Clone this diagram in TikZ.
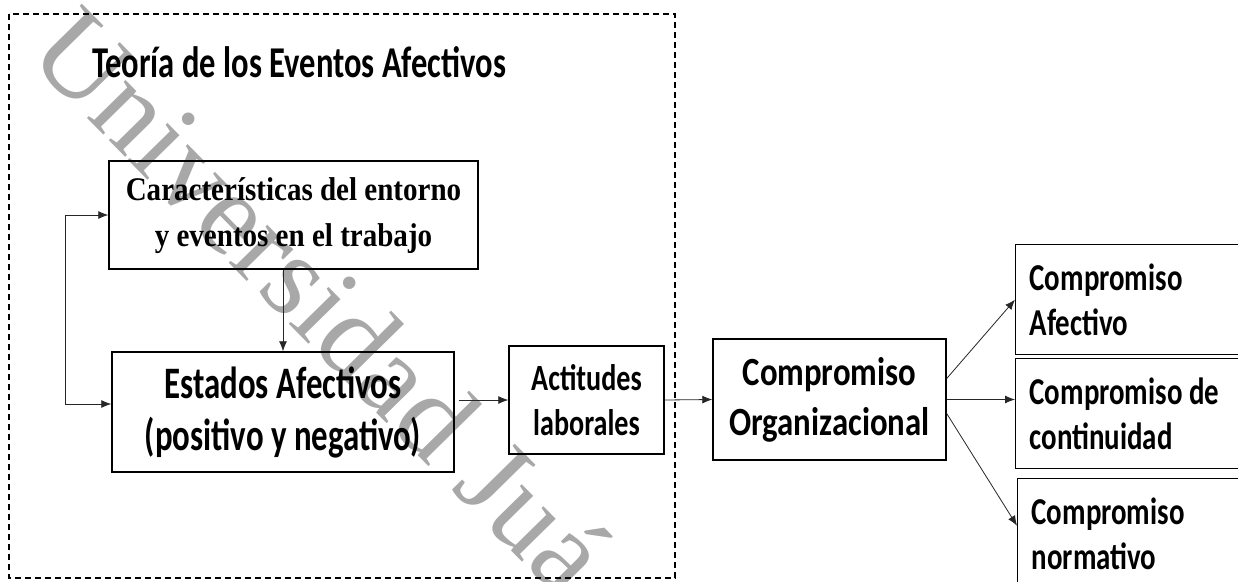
\documentclass[tikz,border=0pt]{standalone}
\usepackage{fontspec}
\newfontfamily\titulofont[FakeStretch=0.74]{Carlito}
\newfontfamily\estadosfont[FakeStretch=0.73]{Carlito}
\newfontfamily\cajafont[FakeStretch=0.76]{Carlito}
\newfontfamily\orgfont[FakeStretch=0.82]{Carlito}
\newfontfamily\timesnr[FakeStretch=0.88]{Liberation Serif}
\newfontfamily\marcafont{Liberation Serif}
\usetikzlibrary{arrows.meta}
\definecolor{marca}{RGB}{168,168,168}

\tikzset{
  caja/.style={draw, line width=1.4pt, inner sep=0pt, align=center},
  derecha/.style={caja, align=flush left, text width=205pt, inner xsep=14pt, minimum height=110pt,
    font=\cajafont\bfseries\fontsize{38}{45}\selectfont},
  flecha/.style={line width=0.8pt, black!85, -{Latex[length=10pt,width=8pt]}}
}

\begin{document}
\begin{tikzpicture}[x=1pt,y=-1pt]
\useasboundingbox (0,0) rectangle (1238,581);
\clip (0,0) rectangle (1238,581);

\node[rotate=-45.5, text=marca, font=\marcafont\fontsize{118}{118}\selectfont] (marca) at (322,300) {Universidad Juá};

\draw[line width=1.2pt, dash pattern=on 6pt off 4pt] (9,14) rectangle (675,578);
\node[anchor=base west, inner sep=0pt, font=\titulofont\bfseries\fontsize{44}{48}\selectfont] (titulo) at (92,77) {Teoría de los Eventos Afectivos};

\node[caja, minimum width=369pt, minimum height=108pt, inner ysep=0pt, text depth=6pt, font=\timesnr\bfseries\fontsize{33}{46}\selectfont] (caract) at (293.5,215) {Características del entorno\\y eventos en el trabajo};
\node[caja, minimum width=342pt, minimum height=120pt, font=\estadosfont\bfseries\fontsize{45}{52}\selectfont] (estados) at (283,412) {Estados Afectivos\\(positivo y negativo)};
\node[caja, minimum width=155pt, minimum height=108pt, font=\cajafont\bfseries\fontsize{37}{45}\selectfont] (actitudes) at (586.5,400) {Actitudes\\laborales};
\node[caja, minimum width=233pt, minimum height=121pt, font=\orgfont\bfseries\fontsize{40}{50}\selectfont] (comporg) at (829.5,399.5) {Compromiso\\Organizacional};

\node[derecha, anchor=north west] (afectivo) at (1015,244) {Compromiso\\Afectivo};
\node[derecha, anchor=north west] (continuidad) at (1015,358) {Compromiso de\\continuidad};
\node[derecha, anchor=north west] (normativo) at (1017,478) {Compromiso\\normativo};

\draw[flecha, {Latex[length=10pt,width=8pt]}-{Latex[length=10pt,width=8pt]}] (caract.west) -- ++(-43,0) |- ([yshift=8pt]estados.west);
\draw[flecha] (caract.south -| estados.north) -- (estados.north);
\draw[flecha, shorten <=4pt] (estados.east |- actitudes.west) -- (actitudes.west);
\draw[flecha] (actitudes.east) -- (comporg.west);
\draw[flecha] ([yshift=21pt]comporg.east) -- (afectivo.west);
\draw[flecha] (comporg.east) -- (comporg.east -| continuidad.west);
\draw[flecha] ([yshift=-14pt]comporg.east) -- ([yshift=8pt]normativo.west);
\end{tikzpicture}
\end{document}
